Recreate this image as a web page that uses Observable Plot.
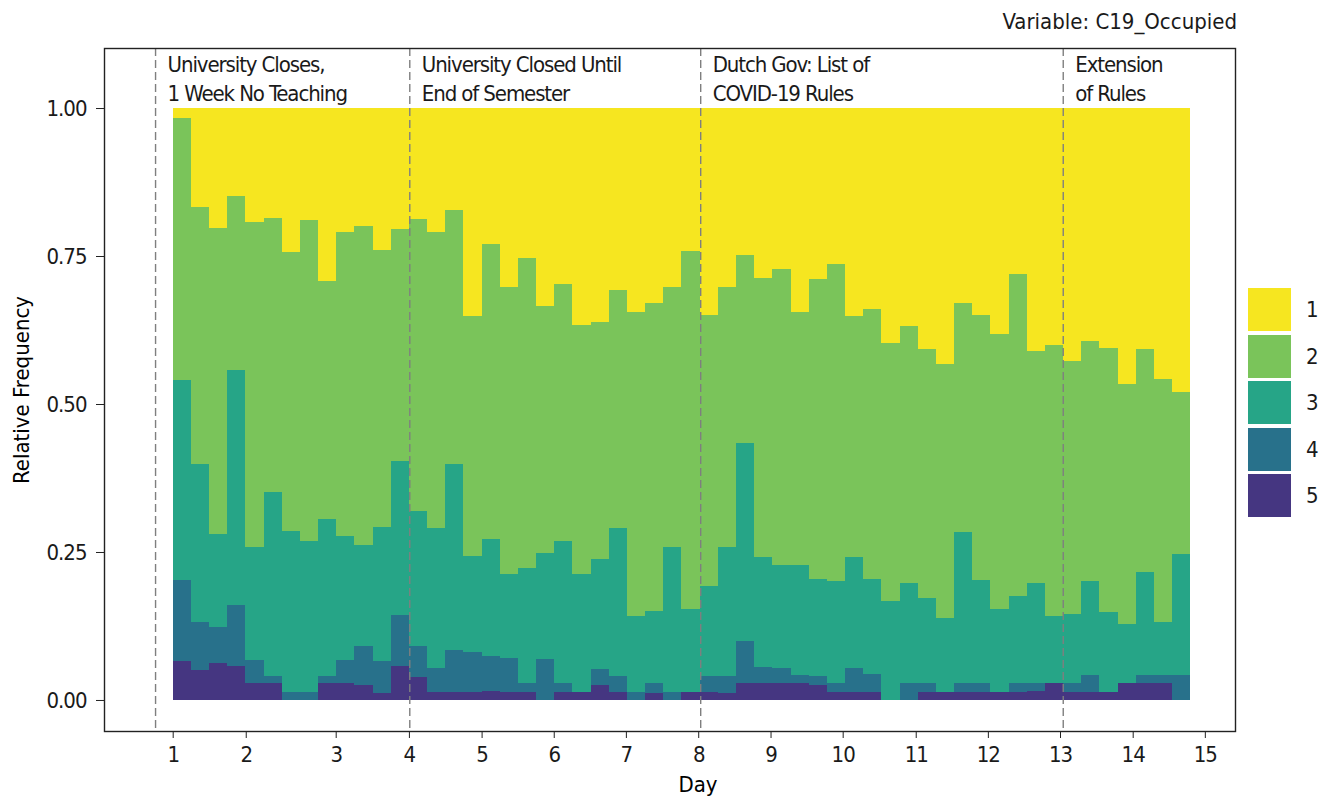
<!DOCTYPE html>
<html>
<head>
<meta charset="utf-8">
<script src="https://cdn.jsdelivr.net/npm/d3@7"></script>
<script src="https://cdn.jsdelivr.net/npm/@observablehq/plot@0.6"></script>
<style>
  body { margin: 0; background: #fff; font-family: "Liberation Sans Narrow", "Arial Narrow", "DejaVu Sans Condensed", sans-serif; color: #1a1a1a; }
  #title { height: 40px; line-height: 44px; font-size: 22px; text-align: right; padding-right: 102px; box-sizing: border-box; width: 1339px; white-space: nowrap; }
  #row { display: flex; width: 1339px; }
  #legend { padding-top: 248px; padding-left: 8px; }
  .key { display: flex; align-items: center; height: 43px; margin-bottom: 3.5px; }
  .sw { width: 43px; height: 43px; }
  .lb { margin-left: 15px; font-size: 22px; }
  svg g[aria-label="x-axis tick label"] text, svg g[aria-label="y-axis tick label"] text { letter-spacing: -1px; }
</style>
</head>
<body>
<div id="title">Variable: C19_Occupied</div>
<div id="row"><div id="chart"></div><div id="legend"></div></div>
<script>
// Response levels (1 = top of stack, 5 = bottom)
const levels = ["1", "2", "3", "4", "5"];
const levelColors = ["#F6E620", "#7AC45A", "#26A587", "#28718B", "#453681"];

// Share of each level per 6-hour measurement bin (56 bins)
const share1 = [.017,.168,.203,.148,.193,.186,.243,.190,.292,.210,.199,.240,.204,.188,.210,.173,.352,.229,.302,.254,.334,.297,.367,.361,.307,.344,.330,.303,.241,.349,.303,.248,.287,.272,.344,.288,.263,.352,.339,.397,.368,.407,.432,.330,.349,.381,.281,.410,.401,.428,.393,.405,.466,.407,.457,.479];
const share2 = [.442,.433,.516,.294,.548,.462,.471,.541,.403,.513,.539,.468,.392,.492,.499,.428,.405,.499,.485,.523,.417,.435,.421,.400,.402,.514,.519,.438,.605,.458,.438,.318,.471,.500,.428,.507,.536,.406,.456,.435,.435,.421,.429,.386,.448,.465,.543,.393,.457,.426,.406,.446,.405,.376,.411,.275];
const share3 = [.338,.267,.158,.397,.191,.312,.272,.255,.264,.209,.170,.226,.260,.228,.237,.314,.162,.198,.142,.194,.179,.240,.198,.187,.250,.128,.123,.245,.140,.152,.218,.334,.186,.174,.185,.164,.172,.188,.161,.168,.169,.143,.125,.256,.174,.140,.147,.168,.114,.117,.158,.135,.101,.174,.089,.203];
const share4 = [.137,.082,.060,.103,.040,.012,.014,.014,.013,.040,.066,.054,.086,.053,.040,.071,.067,.058,.057,.015,.070,.014,.000,.026,.027,.014,.016,.014,.000,.027,.029,.071,.028,.026,.015,.015,.015,.040,.030,.000,.028,.015,.000,.014,.015,.000,.015,.013,.000,.015,.029,.000,.000,.014,.014,.043];
const share5 = [.066,.050,.063,.058,.028,.028,.000,.000,.028,.028,.026,.012,.058,.039,.014,.014,.014,.016,.014,.014,.000,.014,.014,.026,.014,.000,.012,.000,.014,.014,.012,.029,.028,.028,.028,.026,.014,.014,.014,.000,.000,.014,.014,.014,.014,.014,.014,.016,.028,.014,.014,.014,.028,.029,.029,.000];

// Day tick positions (in bin units) and labels
const tickPos = [0, 4.02, 8.97, 13, 17, 20.97, 24.94, 28.92, 32.9, 36.87, 40.89, 44.86, 48.83, 52.83, 56.8];
const tickLabels = ["1","2","3","4","5","6","7","8","9","10","11","12","13","14","15"];

// Events (dashed lines)
const eventPos = [-0.97, 13.02, 29.03, 48.98];
const eventLabels = ["University Closes,\n1 Week No Teaching", "University Closed Until\nEnd of Semester", "Dutch Gov: List of\nCOVID-19 Rules", "Extension\nof Rules"];

const shares = {"1": share1, "2": share2, "3": share3, "4": share4, "5": share5};
const rows = share1.map((_, i) => {
  const r = {bin: i};
  for (const k of levels) r[k] = shares[k][i];
  return r;
});
const series = d3.stack().keys(["5", "4", "3", "2", "1"])(rows);
const stacked = series.flatMap(s => s.map(d => ({bin: d.data.bin, level: s.key, y1: d[0], y2: d[1]})));
const events = eventPos.map((x, i) => ({x, label: eventLabels[i]}));
const tickMap = new Map(tickPos.map((p, i) => [p, tickLabels[i]]));

const font = "'Liberation Sans Narrow', 'Arial Narrow', 'DejaVu Sans Condensed', sans-serif";

const chart = Plot.plot({
  width: 1240,
  height: 760,
  marginLeft: 104,
  marginRight: 5,
  marginTop: 8,
  marginBottom: 69,
  style: {fontFamily: font, fontSize: "22px", color: "#1a1a1a", background: "#fff"},
  x: {domain: [-3.78, 58.46], label: null},
  y: {domain: [-0.0524, 1.1014], label: null},
  color: {domain: levels, range: levelColors},
  marks: [
    Plot.rect(stacked, {x1: "bin", x2: d => d.bin + 1, y1: "y1", y2: "y2", fill: "level", shapeRendering: "crispEdges"}),
    Plot.ruleX(events, {x: "x", stroke: "#7f7f7f", strokeWidth: 1.4, strokeDasharray: "8,4"}),
    Plot.text(events, {x: "x", y: 1.095, text: "label", textAnchor: "start", lineAnchor: "top", dx: 12, lineHeight: 1.29, fontSize: 22, fill: "#1a1a1a"}),
    Plot.frame({stroke: "#222", strokeWidth: 1.4}),
    Plot.axisX({ticks: tickPos, tickFormat: d => tickMap.get(d), tickSize: 7, tickPadding: 8, fontSize: 22, label: null, stroke: "#222"}),
    Plot.axisY({ticks: [0, 0.25, 0.5, 0.75, 1], tickFormat: d3.format(".2f"), tickSize: 8, tickPadding: 10, fontSize: 22, label: null, stroke: "#222"}),
    Plot.text(["Day"], {frameAnchor: "bottom", dx: 28, dy: 53, lineAnchor: "middle", fontSize: 22, fill: "#000"}),
    Plot.text(["Relative Frequency"], {frameAnchor: "left", textAnchor: "middle", rotate: -90, dx: -83, lineAnchor: "middle", fontSize: 22, fill: "#000"})
  ]
});
document.getElementById("chart").appendChild(chart);

// Tighten the event annotations to match the condensed face of the original
d3.select(chart).selectAll('g[aria-label="text"] text')
  .filter(function() { return this.querySelector("tspan") !== null; })
  .style("letter-spacing", "-1.1px");

const legend = document.getElementById("legend");
levels.forEach((k, i) => {
  const row = document.createElement("div");
  row.className = "key";
  const sw = document.createElement("div");
  sw.className = "sw";
  sw.style.background = levelColors[i];
  const lb = document.createElement("div");
  lb.className = "lb";
  lb.textContent = k;
  row.appendChild(sw);
  row.appendChild(lb);
  legend.appendChild(row);
});
</script>
</body>
</html>
